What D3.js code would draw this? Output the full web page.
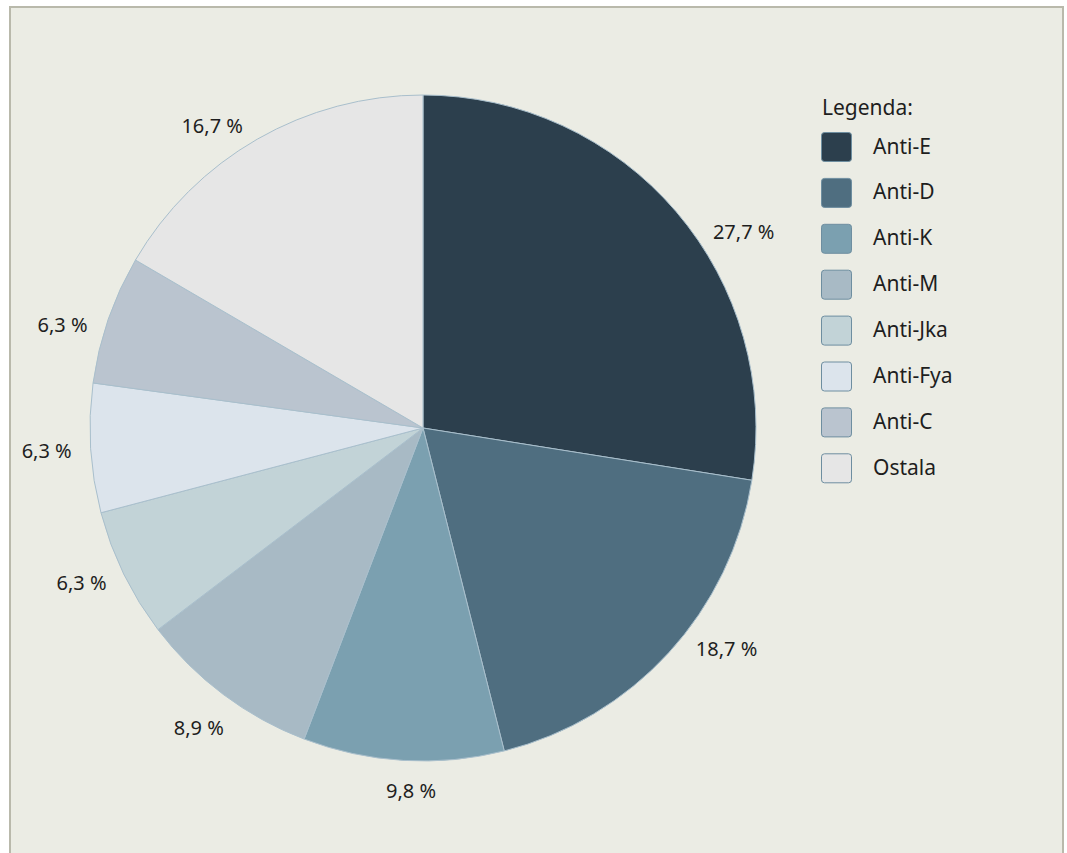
<!DOCTYPE html>
<html>
<head>
<meta charset="utf-8">
<script src="https://cdn.jsdelivr.net/npm/d3@7"></script>
<style>
  body { margin: 0; background: #ffffff; }
  svg { display: block; }
  text { font-family: "Noto Sans", "Open Sans", sans-serif; fill: #1e1e1e; }
</style>
</head>
<body>
<svg></svg>
<script>
var categories = ["Anti-E", "Anti-D", "Anti-K", "Anti-M", "Anti-Jka", "Anti-Fya", "Anti-C", "Ostala"];
var values = [27.7, 18.7, 9.8, 8.9, 6.3, 6.3, 6.3, 16.7];
var labels = ["27,7 %", "18,7 %", "9,8 %", "8,9 %", "6,3 %", "6,3 %", "6,3 %", "16,7 %"];
var colors = ["#2c3f4d", "#4f6e80", "#7ba0b0", "#a8bac5", "#c2d3d7", "#dce4ec", "#bac4cf", "#e6e6e6"];

var width = 1067;
var height = 853;
var cx = 423;
var cy = 428;
var radius = 333;

/* label placement tweaks: angle shift (deg) and distance from centre */
var labelShift = [9, -6.5, -1.5, 0, 1.6, 0, -3, -5];
var labelDist = [376, 375, 363, 374, 375, 377, 375, 369];

var svg = d3.select("svg").attr("width", width).attr("height", height);

/* panel with border */
svg.append("rect")
  .attr("x", 10)
  .attr("y", 7)
  .attr("width", 1053)
  .attr("height", 860)
  .attr("fill", "#ebece4")
  .attr("stroke", "#b9b9ab")
  .attr("stroke-width", 2);

var pie = d3.pie().sort(null).value((d) => d.value);
var data = categories.map((c, i) => {
  return { name: c, value: values[i], label: labels[i], color: colors[i] };
});
var arcs = pie(data);

var arc = d3.arc().innerRadius(0).outerRadius(radius);

var g = svg.append("g").attr("transform", "translate(" + cx + "," + cy + ")");

g.selectAll("path")
  .data(arcs)
  .enter()
  .append("path")
  .attr("d", arc)
  .attr("fill", (d) => d.data.color)
  .attr("stroke", "#a9bfcc")
  .attr("stroke-width", 1);

g.selectAll("text")
  .data(arcs)
  .enter()
  .append("text")
  .attr("transform", (d, i) => {
    var a = (d.startAngle + d.endAngle) / 2 + labelShift[i] * Math.PI / 180;
    var r = labelDist[i];
    return "translate(" + r * Math.sin(a) + "," + -r * Math.cos(a) + ")";
  })
  .attr("text-anchor", "middle")
  .attr("dominant-baseline", "central")
  .style("font-size", "20px")
  .text((d) => d.data.label);

/* legend */
var legend = svg.append("g").attr("transform", "translate(821, 0)");

legend.append("text")
  .attr("x", 1)
  .attr("y", 107)
  .attr("dominant-baseline", "central")
  .style("font-size", "21px")
  .text("Legenda:");

var items = legend.selectAll(".item")
  .data(data)
  .enter()
  .append("g")
  .attr("class", "item")
  .attr("transform", (d, i) => "translate(0," + (132 + i * 45.9) + ")");

items.append("rect")
  .attr("x", 0.5)
  .attr("y", 0.5)
  .attr("width", 30)
  .attr("height", 29)
  .attr("rx", 3)
  .attr("fill", (d) => d.color)
  .attr("stroke", "#6e8ea0")
  .attr("stroke-width", 1);

items.append("text")
  .attr("x", 52)
  .attr("y", 13.5)
  .attr("dominant-baseline", "central")
  .style("font-size", "21px")
  .text((d) => d.name);
</script>
</body>
</html>
